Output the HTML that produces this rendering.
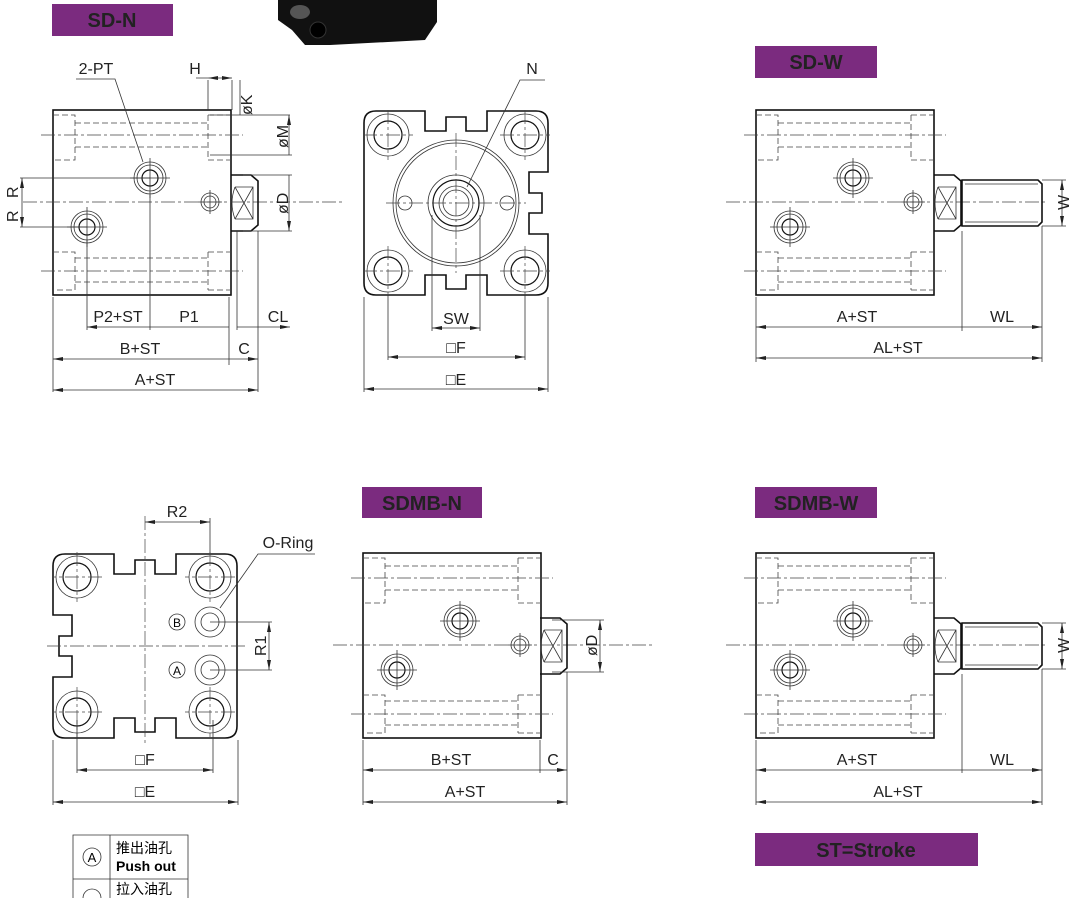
<!DOCTYPE html>
<html><head><meta charset="utf-8"><style>
html,body{margin:0;padding:0;background:#fff}
svg{display:block;font-family:"Liberation Sans","Noto Sans CJK SC",sans-serif}
.o{fill:none;stroke:#111;stroke-width:1.6}
.t{fill:none;stroke:#333;stroke-width:0.8}
.d{fill:none;stroke:#444;stroke-width:0.8;stroke-dasharray:6 3}
.c{fill:none;stroke:#444;stroke-width:0.7;stroke-dasharray:14 3 3 3}
.dim{fill:none;stroke:#333;stroke-width:0.8;marker-start:url(#a);marker-end:url(#a)}
.tx{font-size:16px;fill:#222}
.lb{font-size:20px;font-weight:bold;fill:#222}
</style></head><body>
<svg width="1085" height="898" viewBox="0 0 1085 898">
<defs>
<marker id="a" viewBox="0 0 10 4" refX="10" refY="2" markerWidth="10" markerHeight="4" orient="auto-start-reverse" markerUnits="userSpaceOnUse"><path d="M0,0 L10,2 L0,4 z" fill="#222"/></marker>
<g id="hole">
<circle r="16" class="t"/><circle r="13" class="t"/><circle r="8" class="o" style="stroke-width:1.2"/>
<path d="M-20,0H20M0,-20V20" class="t"/>
</g>
<g id="shole"><circle r="9" class="t"/><circle r="6" class="t"/><path d="M-12,0H12M0,-12V12" class="t"/></g>
<g id="chole"><circle r="21" class="t"/><circle r="14" class="o" style="stroke-width:1.2"/><path d="M-25,0H25M0,-25V25" class="c"/></g>
<g id="body">
<rect x="0" y="0" width="178" height="185" class="o"/>
<path d="M0,5H22V50H0M22,13H155M22,37H155M155,5H178M155,50H178M155,5V50" class="d"/>
<path d="M0,142H22V180H0M22,148H155M22,172H155M155,142H178M155,180H178M155,142V180" class="d"/>
<path d="M-12,25H190M-12,161H190" class="c"/>
<use href="#hole" x="97" y="68"/><use href="#hole" x="34" y="117"/><use href="#shole" x="157" y="92"/>
<path d="M-30,92H290" class="c"/>
</g>
<g id="boss">
<path d="M0,-28H20L27,-22V22L20,28H0" class="o"/>
<path d="M4,-16L22,16M4,16L22,-16M4,-16H22V16H4" class="t"/>
<path d="M4,-16Q-2,0 4,16" class="t"/>
</g>
<g id="rod">
<path d="M0,-23H76L80,-19V19L76,23H0Z" class="o"/>
<path d="M3,-19H76M3,19H76" class="t"/>
</g>
<path id="ep" d="M-80,-92H-31V-72H-10V-86H10V-72H31V-92H80Q92,-92 92,-80V-31H73V-10H86V10H73V31H92V80Q92,92 80,92H31V72H10V86H-10V72H-31V92H-80Q-92,92 -92,80V-80Q-92,-92 -80,-92Z" class="o"/>
</defs>

<rect x="52" y="4" width="121" height="32" fill="#7b2b7f"/><text x="112" y="27" text-anchor="middle" class="lb">SD-N</text>
<rect x="755" y="46" width="122" height="32" fill="#7b2b7f"/><text x="816" y="69" text-anchor="middle" class="lb">SD-W</text>
<rect x="362" y="487" width="120" height="31" fill="#7b2b7f"/><text x="422" y="510" text-anchor="middle" class="lb">SDMB-N</text>
<rect x="755" y="487" width="122" height="31" fill="#7b2b7f"/><text x="816" y="510" text-anchor="middle" class="lb">SDMB-W</text>
<rect x="755" y="833" width="223" height="33" fill="#7b2b7f"/><text x="866" y="857" text-anchor="middle" class="lb">ST=Stroke</text>

<path d="M278,0H437V22L425,40L330,45H305L292,30L278,20Z" fill="#111"/>
<ellipse cx="300" cy="12" rx="10" ry="7" fill="#555"/><circle cx="318" cy="30" r="8" fill="#000" stroke="#333"/>

<use href="#body" x="53" y="110"/>
<use href="#boss" x="231" y="203"/>
<path d="M208,110V80M232,110V80M208,78H196" class="t"/>
<path d="M208,78H232" class="dim"/>
<text x="195" y="74" text-anchor="middle" class="tx">H</text>
<path d="M240,115V80M210,115H290M210,155H292M243,175H292M243,231H292" class="t"/>
<path d="M289,115V155M289,175V231" class="dim"/>
<text x="0" y="0" class="tx" transform="translate(252,115) rotate(-90)">øK</text>
<text x="0" y="0" class="tx" transform="translate(288,148) rotate(-90)">øM</text>
<text x="0" y="0" class="tx" transform="translate(288,214) rotate(-90)">øD</text>
<path d="M150,178H20M87,227H20" class="t"/>
<path d="M22,178V203M22,203V227" class="dim"/>
<text x="0" y="0" class="tx" transform="translate(18,198) rotate(-90)">R</text>
<text x="0" y="0" class="tx" transform="translate(18,222) rotate(-90)">R</text>
<text x="96" y="74" text-anchor="middle" class="tx">2-PT</text>
<path d="M76,79H115L143,162" class="t"/>
<path d="M53,297V392M87,240V330M150,195V330M229,297V365M237,231V330M258,231V392" class="t"/>
<path d="M87,327H150M150,327H229M258,327H290" class="dim"/>
<path d="M237,327H258" class="t"/>
<text x="118" y="322" text-anchor="middle" class="tx">P2+ST</text>
<text x="189" y="322" text-anchor="middle" class="tx">P1</text>
<text x="278" y="322" text-anchor="middle" class="tx">CL</text>
<path d="M53,359H229M229,359H258" class="dim"/>
<text x="140" y="354" text-anchor="middle" class="tx">B+ST</text>
<text x="244" y="354" text-anchor="middle" class="tx">C</text>
<path d="M53,390H258" class="dim"/>
<text x="155" y="385" text-anchor="middle" class="tx">A+ST</text>

<g transform="translate(456,203)">
<use href="#ep"/>
<use href="#chole" x="-68" y="-68"/><use href="#chole" x="69" y="-68"/><use href="#chole" x="-68" y="68"/><use href="#chole" x="69" y="68"/>
<circle r="63" class="t"/><circle r="60" class="t"/>
<circle r="28" class="t"/><circle r="23" class="o" style="stroke-width:1.2"/><circle r="17" class="t"/><circle r="13" class="t"/>
<circle cx="-51" r="7" class="t"/><circle cx="51" r="7" class="t"/>
<path d="M-70,0H70M0,-70V70" class="c"/>
</g>
<text x="532" y="74" text-anchor="middle" class="tx">N</text>
<path d="M545,80H520L467,187" class="t"/>
<path d="M432,215V331M480,215V331M388,295V360M525,295V360M364,297V392M548,297V392" class="t"/>
<path d="M432,328H480" class="dim"/><text x="456" y="324" text-anchor="middle" class="tx">SW</text>
<path d="M388,357H525" class="dim"/><text x="456" y="353" text-anchor="middle" class="tx">□F</text>
<path d="M364,389H548" class="dim"/><text x="456" y="385" text-anchor="middle" class="tx">□E</text>

<use href="#body" x="756" y="110"/>
<use href="#boss" x="934" y="203"/>
<use href="#rod" x="962" y="203"/>
<path d="M1042,180H1066M1042,226H1066" class="t"/><path d="M1062,180V226" class="dim"/>
<text x="0" y="0" class="tx" transform="translate(1069,210) rotate(-90)">W</text>
<path d="M756,297V362M962,231V331M1042,226V362" class="t"/>
<path d="M756,327H962M962,327H1042" class="dim"/>
<text x="857" y="322" text-anchor="middle" class="tx">A+ST</text><text x="1002" y="322" text-anchor="middle" class="tx">WL</text>
<path d="M756,358H1042" class="dim"/><text x="898" y="353" text-anchor="middle" class="tx">AL+ST</text>

<g transform="translate(145,646) scale(-1,1)">
<use href="#ep"/>
<use href="#chole" x="-65" y="-69"/><use href="#chole" x="68" y="-69"/><use href="#chole" x="-65" y="66"/><use href="#chole" x="68" y="66"/>
<circle cx="-65" cy="-24" r="15" class="t"/><circle cx="-65" cy="-24" r="9" class="t"/>
<circle cx="-65" cy="24" r="15" class="t"/><circle cx="-65" cy="24" r="9" class="t"/>
<path d="M-100,0H100M0,-130V100" class="c"/>
</g>
<path d="M210,622H272M210,670H272M210,553V518" class="t"/>
<circle cx="177" cy="622" r="8" class="t"/><text x="177" y="627" text-anchor="middle" style="font-size:12px">B</text>
<circle cx="177" cy="670" r="8" class="t"/><text x="177" y="675" text-anchor="middle" style="font-size:12px">A</text>
<path d="M145,522H210" class="dim"/><text x="177" y="517" text-anchor="middle" class="tx">R2</text>
<path d="M269,622V670" class="dim"/><text x="0" y="0" class="tx" transform="translate(266,656) rotate(-90)">R1</text>
<text x="288" y="548" text-anchor="middle" class="tx">O-Ring</text>
<path d="M315,554H258L220,608" class="t"/>
<path d="M77,720V773M213,720V773M53,740V805M238,740V805" class="t"/>
<path d="M77,770H213" class="dim"/><text x="145" y="765" text-anchor="middle" class="tx">□F</text>
<path d="M53,802H238" class="dim"/><text x="145" y="797" text-anchor="middle" class="tx">□E</text>
<path d="M73,898V835H188V898M110,835V898M73,879H188" class="t"/>
<circle cx="92" cy="857" r="9" class="t"/><text x="92" y="862" text-anchor="middle" style="font-size:13px">A</text>
<circle cx="92" cy="898" r="9" class="t"/>
<text x="116" y="853" style="font-size:14px">推出油孔</text>
<text x="116" y="871" style="font-size:14px;font-weight:bold">Push out</text>
<text x="116" y="894" style="font-size:14px">拉入油孔</text>

<use href="#body" x="363" y="553"/>
<use href="#boss" x="540" y="646"/>
<path d="M552,620H604M552,672H604" class="t"/><path d="M600,620V672" class="dim"/>
<text x="0" y="0" class="tx" transform="translate(597,656) rotate(-90)">øD</text>
<path d="M363,740V805M540,740V773M567,672V805" class="t"/>
<path d="M363,770H540M540,770H567" class="dim"/>
<text x="451" y="765" text-anchor="middle" class="tx">B+ST</text><text x="553" y="765" text-anchor="middle" class="tx">C</text>
<path d="M363,802H567" class="dim"/><text x="465" y="797" text-anchor="middle" class="tx">A+ST</text>

<use href="#body" x="756" y="553"/>
<use href="#boss" x="934" y="646"/>
<use href="#rod" x="962" y="646"/>
<path d="M1042,623H1066M1042,669H1066" class="t"/><path d="M1062,623V669" class="dim"/>
<text x="0" y="0" class="tx" transform="translate(1069,653) rotate(-90)">W</text>
<path d="M756,740V805M962,674V773M1042,669V805" class="t"/>
<path d="M756,770H962M962,770H1042" class="dim"/>
<text x="857" y="765" text-anchor="middle" class="tx">A+ST</text><text x="1002" y="765" text-anchor="middle" class="tx">WL</text>
<path d="M756,802H1042" class="dim"/><text x="898" y="797" text-anchor="middle" class="tx">AL+ST</text>
</svg>
</body></html>
